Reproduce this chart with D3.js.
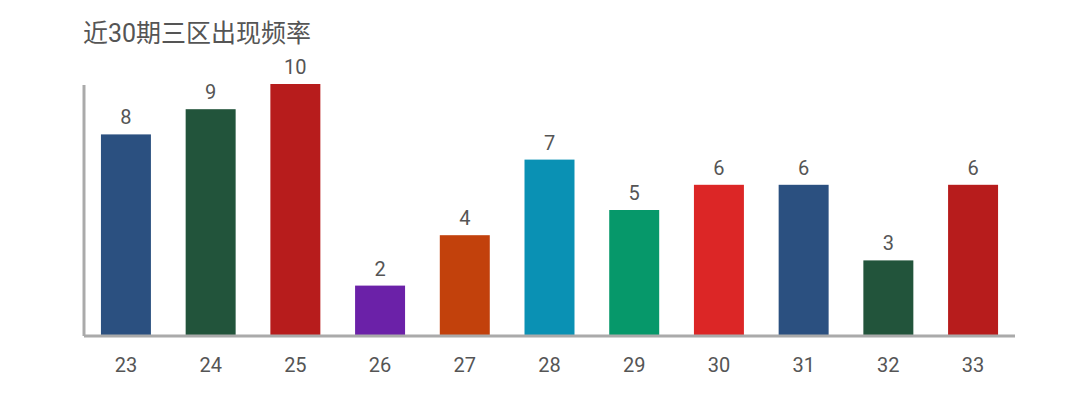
<!DOCTYPE html>
<html>
<head>
<meta charset="utf-8">
<script src="https://cdn.jsdelivr.net/npm/d3@7"></script>
<style>
  body { margin: 0; background: #fff; }
  text { font-family: Roboto, "Noto Sans CJK SC", sans-serif; }
</style>
</head>
<body>
<svg id="chart" width="1076" height="419"></svg>
<script>
// data
var categories = ["23", "24", "25", "26", "27", "28", "29", "30", "31", "32", "33"];
var counts = [8, 9, 10, 2, 4, 7, 5, 6, 6, 3, 6];
var barColors = ["#2b5080", "#22543b", "#b71c1c", "#6b21a8", "#c2410c", "#0a91b4",
                 "#06986a", "#dc2626", "#2b5080", "#22543b", "#b71c1c"];
var title = "近30期三区出现频率";

var svg = d3.select("#chart");
var plotLeft = 84, plotRight = 1015, plotTop = 84, plotBottom = 336;

var x = d3.scaleBand()
    .domain(categories)
    .range([plotLeft, plotRight])
    .paddingInner(0.41)
    .paddingOuter(0.2);

var y = d3.scaleLinear()
    .domain([0, 10])
    .range([plotBottom, plotTop]);

svg.append("text")
    .text(title)
    .attr("x", 83)
    .attr("y", 42)
    .style("font-size", "25px")
    .style("fill", "#555");

var data = categories.map(function(c, i) { return {cat: c, v: counts[i], color: barColors[i]}; });

svg.selectAll("rect.bar")
    .data(data)
    .enter().append("rect")
    .attr("class", "bar")
    .attr("x", function(d) { return x(d.cat); })
    .attr("y", function(d) { return y(d.v); })
    .attr("width", x.bandwidth())
    .attr("height", function(d) { return plotBottom - y(d.v); })
    .attr("fill", function(d) { return d.color; });

svg.selectAll("text.val")
    .data(data)
    .enter().append("text")
    .attr("class", "val")
    .text(function(d) { return d.v; })
    .attr("x", function(d) { return x(d.cat) + x.bandwidth() / 2; })
    .attr("y", function(d) { return y(d.v) - 10; })
    .attr("text-anchor", "middle")
    .style("font-size", "20px")
    .style("fill", "#555");

// axes
var xAxis = svg.append("g")
    .attr("transform", "translate(0," + plotBottom + ")")
    .call(d3.axisBottom(x).tickSize(0).tickPadding(22));
xAxis.select(".domain").attr("stroke", "#aaa").attr("stroke-width", 3)
    .attr("d", "M" + plotLeft + ",0H" + plotRight);
xAxis.selectAll("text").style("font-size", "20px").style("fill", "#555")
    .style("font-family", "Roboto, sans-serif");

svg.append("line")
    .attr("x1", plotLeft).attr("x2", plotLeft)
    .attr("y1", plotTop + 1).attr("y2", plotBottom)
    .attr("stroke", "#aaa").attr("stroke-width", 3);
</script>
</body>
</html>
